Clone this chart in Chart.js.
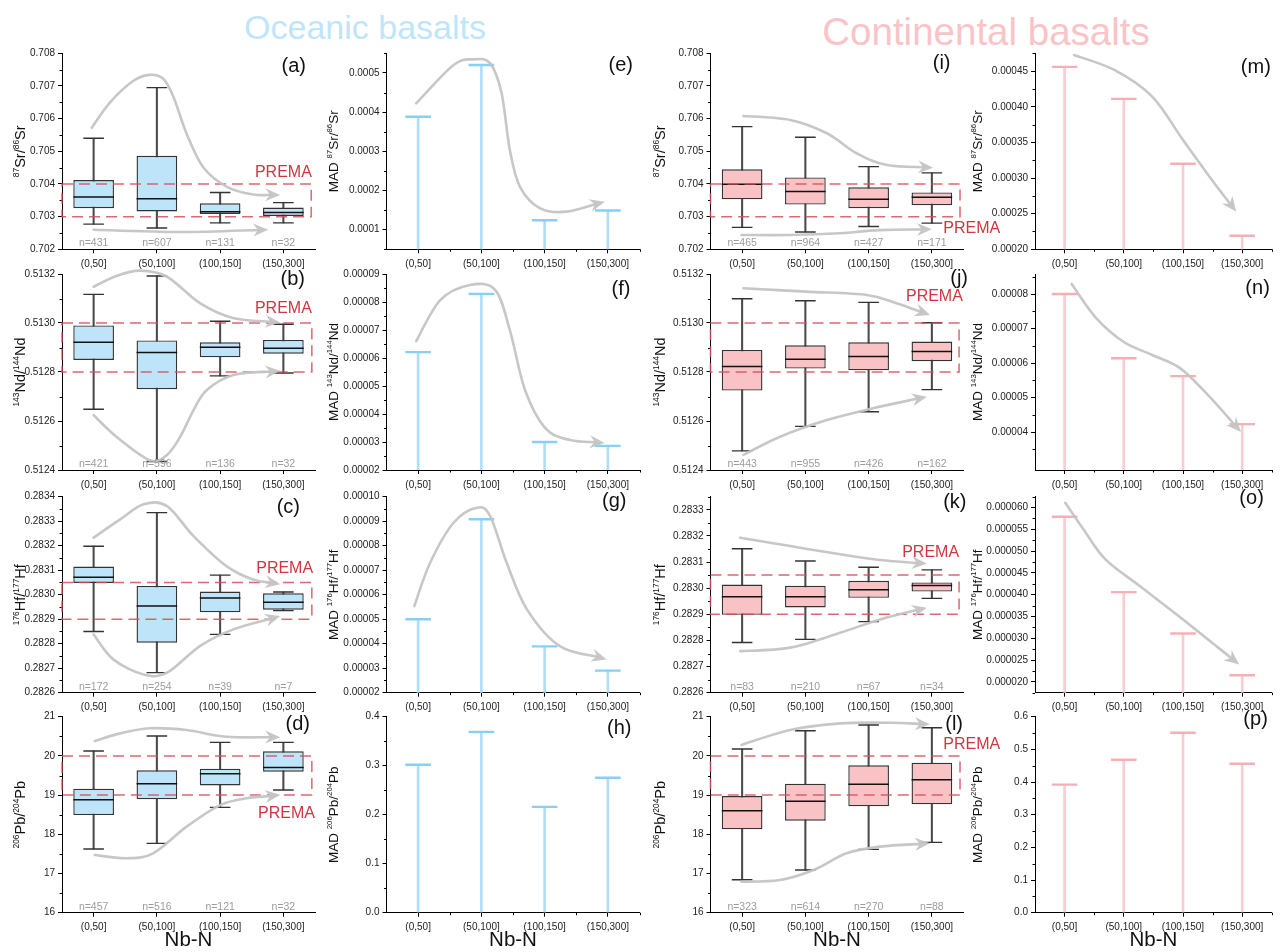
<!DOCTYPE html>
<html><head><meta charset="utf-8">
<script src="https://cdn.jsdelivr.net/npm/chart.js@4.4.1/dist/chart.umd.min.js"></script>
<style>
html,body{margin:0;padding:0;background:#fff;width:1287px;height:952px;overflow:hidden;position:relative;font-family:"Liberation Sans",Arial,Helvetica,sans-serif}
canvas{position:absolute;left:0;top:0}
.hdr{position:absolute;white-space:nowrap;transform:translateX(-50%)}
</style></head><body>
<div class="hdr" style="left:365px;top:10px;font-size:34px;line-height:34px;color:#bfe5fa">Oceanic basalts</div>
<div class="hdr" style="left:986px;top:13px;font-size:38.5px;line-height:38.5px;color:#f9c4c7">Continental basalts</div>
<script>
const categories = ['(0,50]', '(50,100]', '(100,150]', '(150,300]'];

// ---- Oceanic box plots ----
const aLow  = [0.70277, 0.70265, 0.70281, 0.70281];
const aQ1   = [0.70326, 0.70316, 0.70308, 0.70302];
const aMed  = [0.70360, 0.70355, 0.70315, 0.70313];
const aQ3   = [0.70412, 0.70486, 0.70341, 0.70328];
const aHigh = [0.70540, 0.70695, 0.70374, 0.70343];
const aN    = [431, 607, 131, 32];

const bLow  = [0.512648, 0.512435, 0.512784, 0.512796];
const bQ1   = [0.512849, 0.512730, 0.512860, 0.512875];
const bMed  = [0.512921, 0.512880, 0.512901, 0.512897];
const bQ3   = [0.512990, 0.512929, 0.512921, 0.512931];
const bHigh = [0.513117, 0.513192, 0.513007, 0.512995];
const bN    = [421, 596, 136, 32];

const cLow  = [0.282850, 0.282682, 0.282838, 0.282935];
const cQ1   = [0.283048, 0.282804, 0.282928, 0.282939];
const cMed  = [0.283071, 0.282954, 0.282987, 0.282969];
const cQ3   = [0.283115, 0.283036, 0.283013, 0.283006];
const cHigh = [0.283198, 0.283335, 0.283080, 0.283011];
const cN    = [172, 254, 39, 7];

const dLow  = [17.624, 17.769, 18.687, 19.129];
const dQ1   = [18.491, 18.891, 19.248, 19.597];
const dMed  = [18.883, 19.291, 19.546, 19.707];
const dQ3   = [19.163, 19.631, 19.673, 20.116];
const dHigh = [20.124, 20.507, 20.345, 20.345];
const dN    = [457, 516, 121, 32];

// ---- Continental box plots ----
const iLow  = [0.70267, 0.70253, 0.70270, 0.70280];
const iQ1   = [0.70353, 0.70337, 0.70326, 0.70335];
const iMed  = [0.70399, 0.70377, 0.70353, 0.70359];
const iQ3   = [0.70445, 0.70420, 0.70390, 0.70374];
const iHigh = [0.705755, 0.70543, 0.70453, 0.70434];
const iN    = [465, 964, 427, 171];

const jLow  = [0.512478, 0.512578, 0.512638, 0.512728];
const jQ1   = [0.512724, 0.512814, 0.512807, 0.512844];
const jMed  = [0.512822, 0.512852, 0.512863, 0.512884];
const jQ3   = [0.512890, 0.512909, 0.512921, 0.512924];
const jHigh = [0.513099, 0.513091, 0.513084, 0.513001];
const jN    = [443, 955, 426, 162];

const kLow  = [0.282792, 0.282804, 0.282872, 0.282961];
const kQ1   = [0.282898, 0.282926, 0.282963, 0.282987];
const kMed  = [0.282967, 0.282967, 0.282994, 0.283010];
const kQ3   = [0.283014, 0.283009, 0.283028, 0.283022];
const kHigh = [0.283151, 0.283104, 0.283080, 0.283070];
const kN    = [83, 210, 67, 34];

const lLow  = [16.842, 17.088, 17.616, 17.794];
const lQ1   = [18.126, 18.347, 18.713, 18.764];
const lMed  = [18.602, 18.840, 19.274, 19.393];
const lQ3   = [18.976, 19.291, 19.759, 19.827];
const lHigh = [20.175, 20.643, 20.787, 20.719];
const lN    = [323, 614, 270, 88];

// ---- MAD values ----
const eMad = [0.000388, 0.000520, 0.000124, 0.000149];
const fMad = [0.0000621, 0.0000829, 0.0000300, 0.0000286];
const gMad = [0.0000500, 0.0000908, 0.0000389, 0.0000290];
const hMad = [0.302, 0.369, 0.216, 0.2755];
const mMad = [0.000456, 0.000411, 0.000320, 0.000219];
const nMad = [0.0000800, 0.0000614, 0.0000562, 0.0000423];
const oMad = [0.0000579, 0.0000406, 0.0000311, 0.0000215];
const pMad = [0.392, 0.468, 0.551, 0.456];

// ---- tick labels ----
const srTicks  = [0.702, 0.703, 0.704, 0.705, 0.706, 0.707, 0.708];
const ndTicks  = [0.5124, 0.5126, 0.5128, 0.5130, 0.5132];
const hfTicks  = [0.2826, 0.2827, 0.2828, 0.2829, 0.2830, 0.2831, 0.2832, 0.2833, 0.2834];
const hfTicksK = [0.2826, 0.2827, 0.2828, 0.2829, 0.2830, 0.2831, 0.2832, 0.2833];
const pbTicks  = [16, 17, 18, 19, 20, 21];
const eTicks = [0.0001, 0.0002, 0.0003, 0.0004, 0.0005];
const fTicks = [0.00002, 0.00003, 0.00004, 0.00005, 0.00006, 0.00007, 0.00008, 0.00009];
const gTicks = [0.00002, 0.00003, 0.00004, 0.00005, 0.00006, 0.00007, 0.00008, 0.00009, 0.00010];
const hTicks = [0.0, 0.1, 0.2, 0.3, 0.4];
const mTicks = [0.00020, 0.00025, 0.00030, 0.00035, 0.00040, 0.00045];
const nTicks = [0.00004, 0.00005, 0.00006, 0.00007, 0.00008];
const oTicks = [0.000020, 0.000025, 0.000030, 0.000035, 0.000040, 0.000045, 0.000050, 0.000055, 0.000060];
const pTicks = [0.0, 0.1, 0.2, 0.3, 0.4, 0.5, 0.6];

// ---- axis titles (superscript parts in braces) ----
const titleSr = '{87}Sr/{86}Sr';
const titleNd = '{143}Nd/{144}Nd';
const titleHf = '{176}Hf/{177}Hf';
const titlePb = '{206}Pb/{204}Pb';

// ---- trend arrows: [category index, fraction of y range] ----
const aArrows = [
  [[-0.03,0.62],[0.26,0.75],[0.63,0.86],[0.89,0.89],[1.10,0.87],[1.26,0.78],[1.47,0.59],[1.73,0.42],[2.10,0.32],[2.52,0.28],[2.95,0.277]],
  [[0.0,0.10],[1.37,0.088],[2.76,0.10]]
];
const bArrows = [
  [[0.0,0.935],[0.36,0.99],[0.73,1.017],[1.16,0.986],[1.68,0.851],[2.20,0.776],[2.95,0.752]],
  [[0.0,0.28],[0.36,0.17],[0.89,0.05],[1.16,0.077],[1.37,0.17],[1.58,0.306],[1.79,0.408],[2.21,0.485],[2.95,0.507]]
];
const cArrows = [
  [[0.0,0.791],[0.42,0.884],[0.79,0.961],[1.16,0.952],[1.58,0.799],[2.10,0.646],[2.52,0.578],[2.95,0.553]],
  [[0.0,0.297],[0.31,0.170],[0.79,0.093],[1.16,0.102],[1.68,0.238],[2.21,0.323],[2.95,0.391]]
];
const dArrows = [
  [[0.02,0.876],[0.42,0.915],[0.89,0.941],[1.47,0.932],[2.10,0.898],[2.95,0.895]],
  [[0.02,0.294],[0.52,0.278],[0.94,0.303],[1.47,0.439],[2.0,0.549],[2.42,0.584],[2.95,0.600]]
];
const eArrows = [[[-0.03,0.745],[0.56,0.940],[0.87,0.969],[1.14,0.949],[1.32,0.796],[1.45,0.507],[1.61,0.319],[1.93,0.209],[2.35,0.192],[2.95,0.243]]];
const fArrows = [[[-0.03,0.658],[0.35,0.867],[0.82,0.944],[1.22,0.918],[1.45,0.714],[1.69,0.408],[2.01,0.214],[2.40,0.153],[2.95,0.138]]];
const gArrows = [[[-0.06,0.442],[0.19,0.663],[0.56,0.867],[0.93,0.944],[1.14,0.901],[1.40,0.663],[1.72,0.425],[2.24,0.238],[2.98,0.170]]];
const iArrows = [
  [[0.02,0.680],[0.76,0.660],[1.34,0.592],[1.81,0.490],[2.29,0.430],[3.02,0.416]],
  [[-0.01,0.073],[0.76,0.073],[1.55,0.082],[2.18,0.098],[3.0,0.102]]
];
const jArrows = [
  [[0.02,0.927],[1.02,0.910],[1.97,0.893],[2.44,0.851],[2.97,0.791]],
  [[0.02,0.077],[0.60,0.170],[1.34,0.255],[2.07,0.315],[2.92,0.374]]
];
const kArrows = [
  [[-0.03,0.791],[0.76,0.748],[1.55,0.706],[2.18,0.677],[2.92,0.658]],
  [[-0.03,0.212],[0.76,0.230],[1.55,0.306],[2.18,0.374],[2.92,0.434]]
];
const lArrows = [
  [[-0.01,0.856],[0.76,0.932],[1.55,0.966],[2.34,0.969],[2.97,0.961]],
  [[-0.01,0.158],[0.60,0.167],[1.13,0.218],[1.65,0.303],[2.18,0.337],[2.97,0.354]]
];
const mArrows = [[[0.16,0.991],[0.84,0.915],[1.48,0.779],[2.0,0.558],[2.53,0.337],[2.90,0.192]]];
const nArrows = [[[0.12,0.949],[0.53,0.776],[1.0,0.653],[1.48,0.587],[1.95,0.520],[2.42,0.383],[2.98,0.194]]];
const oArrows = [[[0.01,0.969],[0.32,0.833],[0.69,0.680],[1.27,0.544],[2.0,0.374],[2.95,0.144]]];

// ---- styling / layout ----
const FONT = '"Liberation Sans", Arial, Helvetica, sans-serif';
const BLUE_FILL = '#bde4f9', PINK_FILL = '#f9c3c6';
const BLUE_STEM = '#afdff7', BLUE_CAP = '#86cff5';
const PINK_STEM = '#f9cdd0', PINK_CAP = '#f6b0b5';
const COL_LEFT = [62, 386.5, 710.5, 1035];
const ROW_TOP = [53.3, 274, 496.7, 716.7];
const PLOT_H = 196;
const Y_W = [60, 66, 60, 66];
const TITLE_OFF = [42, 53.5, 50.5, 58];

const panels = [
  {kind:'box', row:0, col:0, low:aLow, q1:aQ1, med:aMed, q3:aQ3, high:aHigh, n:aN, min:0.702, max:0.708, ticks:srTicks, dec:3, title:titleSr, fill:BLUE_FILL,
   prema:{lo:0.703, hi:0.704, xr:3.44, tx:3.45, ty:0.70434, align:'right'}, arrows:aArrows, letter:'(a)', lr:9, lt:13},
  {kind:'box', row:1, col:0, low:bLow, q1:bQ1, med:bMed, q3:bQ3, high:bHigh, n:bN, min:0.5124, max:0.5132, ticks:ndTicks, dec:4, title:titleNd, fill:BLUE_FILL,
   prema:{lo:0.5128, hi:0.5130, xr:3.45, tx:3.45, ty:0.51306, align:'right'}, arrows:bArrows, letter:'(b)', lr:10, lt:5},
  {kind:'box', row:2, col:0, low:cLow, q1:cQ1, med:cMed, q3:cQ3, high:cHigh, n:cN, min:0.2826, max:0.2834, ticks:hfTicks, dec:4, title:titleHf, fill:BLUE_FILL,
   prema:{lo:0.2829, hi:0.28305, xr:3.45, tx:3.47, ty:0.283105, align:'right'}, arrows:cArrows, letter:'(c)', lr:15, lt:11},
  {kind:'box', row:3, col:0, low:dLow, q1:dQ1, med:dMed, q3:dQ3, high:dHigh, n:dN, min:16, max:21, ticks:pbTicks, dec:0, title:titlePb, fill:BLUE_FILL,
   prema:{lo:19, hi:20, xr:3.45, tx:3.5, ty:18.535, align:'right'}, arrows:dArrows, letter:'(d)', lr:5, lt:8},

  {kind:'mad', row:0, col:1, mad:eMad, min:0.00005, max:0.00055, ticks:eTicks, dec:4, title:'MAD ' + titleSr, stem:BLUE_STEM, cap:BLUE_CAP, arrows:eArrows, letter:'(e)', lr:6.5, lt:12},
  {kind:'mad', row:1, col:1, mad:fMad, min:0.00002, max:0.00009, ticks:fTicks, dec:5, title:'MAD ' + titleNd, stem:BLUE_STEM, cap:BLUE_CAP, arrows:fArrows, letter:'(f)', lr:9, lt:15},
  {kind:'mad', row:2, col:1, mad:gMad, min:0.00002, max:0.00010, ticks:gTicks, dec:5, title:'MAD ' + titleHf, stem:BLUE_STEM, cap:BLUE_CAP, arrows:gArrows, letter:'(g)', lr:13, lt:5},
  {kind:'mad', row:3, col:1, mad:hMad, min:0, max:0.4, ticks:hTicks, dec:1, title:'MAD ' + titlePb, stem:BLUE_STEM, cap:BLUE_CAP, arrows:[], letter:'(h)', lr:8, lt:12},

  {kind:'box', row:0, col:2, low:iLow, q1:iQ1, med:iMed, q3:iQ3, high:iHigh, n:iN, min:0.702, max:0.708, ticks:srTicks, dec:3, title:titleSr, fill:PINK_FILL,
   prema:{lo:0.703, hi:0.704, xr:3.445, tx:3.18, ty:0.70264, align:'left'}, arrows:iArrows, letter:'(i)', lr:13, lt:10},
  {kind:'box', row:1, col:2, low:jLow, q1:jQ1, med:jMed, q3:jQ3, high:jHigh, n:jN, min:0.5124, max:0.5132, ticks:ndTicks, dec:4, title:titleNd, fill:PINK_FILL,
   prema:{lo:0.5128, hi:0.5130, xr:3.43, tx:3.49, ty:0.513106, align:'right'}, arrows:jArrows, letter:'(j)', lr:-4.5, lt:4},
  {kind:'box', row:2, col:2, low:kLow, q1:kQ1, med:kMed, q3:kQ3, high:kHigh, n:kN, min:0.2826, max:0.28335, ticks:hfTicksK, dec:4, title:titleHf, fill:PINK_FILL,
   prema:{lo:0.2829, hi:0.28305, xr:3.43, tx:3.43, ty:0.283135, align:'right'}, arrows:kArrows, letter:'(k)', lr:-3, lt:6},
  {kind:'box', row:3, col:2, low:lLow, q1:lQ1, med:lMed, q3:lQ3, high:lHigh, n:lN, min:16, max:21, ticks:pbTicks, dec:0, title:titlePb, fill:PINK_FILL,
   prema:{lo:19, hi:20, xr:3.445, tx:3.18, ty:20.28, align:'left'}, arrows:lArrows, letter:'(l)', lr:0.5, lt:8},

  {kind:'mad', row:0, col:3, mad:mMad, min:0.0002, max:0.000475, ticks:mTicks, dec:5, title:'MAD ' + titleSr, stem:PINK_STEM, cap:PINK_CAP, arrows:mArrows, letter:'(m)', lr:1, lt:14},
  {kind:'mad', row:1, col:3, mad:nMad, min:0.000029, max:0.0000858, ticks:nTicks, dec:5, title:'MAD ' + titleNd, stem:PINK_STEM, cap:PINK_CAP, arrows:nArrows, letter:'(n)', lr:2, lt:14},
  {kind:'mad', row:2, col:3, mad:oMad, min:0.0000175, max:0.0000625, ticks:oTicks, dec:6, title:'MAD ' + titleHf, stem:PINK_STEM, cap:PINK_CAP, arrows:oArrows, letter:'(o)', lr:8, lt:2},
  {kind:'mad', row:3, col:3, mad:pMad, min:0, max:0.6, ticks:pTicks, dec:1, title:'MAD ' + titlePb, stem:PINK_STEM, cap:PINK_CAP, arrows:[], letter:'(p)', lr:4, lt:3}
];

// plain text version of a title (superscript braces removed)
function plainTitle(t) { return t.replace(/[{}]/g, ''); }
// split into segments: [{t, sup}]
function titleSegments(t) {
  const segs = [];
  const re = /\{([^}]*)\}|([^{]+)/g;
  let m;
  while ((m = re.exec(t)) !== null) {
    if (m[1] !== undefined) segs.push({t: m[1], sup: true});
    else segs.push({t: m[2], sup: false});
  }
  return segs;
}

function drawVerticalTitle(ctx, text, cx, cy, size) {
  const segs = titleSegments(text);
  const supSize = size * 0.58;
  let total = 0;
  segs.forEach(s => {
    ctx.font = (s.sup ? supSize : size) + 'px ' + FONT;
    s.w = ctx.measureText(s.t).width;
    total += s.w;
  });
  ctx.save();
  ctx.translate(cx, cy);
  ctx.rotate(-Math.PI / 2);
  ctx.fillStyle = '#111';
  ctx.textAlign = 'left';
  ctx.textBaseline = 'alphabetic';
  let x = -total / 2;
  const base = size * 0.36;
  segs.forEach(s => {
    ctx.font = (s.sup ? supSize : size) + 'px ' + FONT;
    ctx.fillText(s.t, x, s.sup ? base - size * 0.42 : base);
    x += s.w;
  });
  ctx.restore();
}

function drawArrow(ctx, pts) {
  const n = pts.length;
  const segs = [];
  for (let i = 0; i < n - 1; i++) {
    const p0 = pts[Math.max(i - 1, 0)], p1 = pts[i], p2 = pts[i + 1], p3 = pts[Math.min(i + 2, n - 1)];
    const c1 = [p1[0] + (p2[0] - p0[0]) / 6, p1[1] + (p2[1] - p0[1]) / 6];
    const c2 = [p2[0] - (p3[0] - p1[0]) / 6, p2[1] - (p3[1] - p1[1]) / 6];
    segs.push([p1, c1, c2, p2]);
  }
  const ls = segs[segs.length - 1];
  const tip = ls[3];
  let dx = tip[0] - ls[2][0], dy = tip[1] - ls[2][1];
  let L = Math.hypot(dx, dy);
  if (L < 1e-6) { dx = tip[0] - ls[0][0]; dy = tip[1] - ls[0][1]; L = Math.hypot(dx, dy) || 1; }
  dx /= L; dy /= L;
  const headL = 15, headW = 6.5, back = headL * 0.6;
  const end = [tip[0] - dx * back, tip[1] - dy * back];
  ctx.beginPath();
  ctx.moveTo(pts[0][0], pts[0][1]);
  segs.forEach((s, k) => {
    if (k === segs.length - 1) {
      ctx.bezierCurveTo(s[1][0], s[1][1], s[2][0] - dx * back, s[2][1] - dy * back, end[0], end[1]);
    } else {
      ctx.bezierCurveTo(s[1][0], s[1][1], s[2][0], s[2][1], s[3][0], s[3][1]);
    }
  });
  ctx.stroke();
  const px = -dy, py = dx;
  ctx.beginPath();
  ctx.moveTo(tip[0], tip[1]);
  ctx.lineTo(tip[0] - dx * headL + px * headW, tip[1] - dy * headL + py * headW);
  ctx.lineTo(tip[0] - dx * headL * 0.68, tip[1] - dy * headL * 0.68);
  ctx.lineTo(tip[0] - dx * headL - px * headW, tip[1] - dy * headL - py * headW);
  ctx.closePath();
  ctx.fill();
}

const decorPlugin = {
  id: 'decor',
  afterDraw(chart, args, opts) {
    const p = opts.panel;
    if (!p) return;
    const ctx = chart.ctx, xs = chart.scales.x, ys = chart.scales.y, ca = chart.chartArea;
    ctx.save();
    // minor ticks on y axis
    const tv = ys.ticks.map(t => t.value);
    const step = tv[1] - tv[0];
    ctx.strokeStyle = '#000'; ctx.lineWidth = 1;
    ctx.beginPath();
    for (let k = -1; k < tv.length + 1; k++) {
      const v = tv[0] + (k + 0.5) * step;
      if (v < ys.min - step * 1e-6 || v > ys.max + step * 1e-6) continue;
      const y = Math.round(ys.getPixelForValue(v)) + 0.5;
      ctx.moveTo(ca.left - 2.5, y); ctx.lineTo(ca.left, y);
    }
    if (p.kind === 'mad') {
      for (let i = 1; i <= 4; i++) {
        const x = Math.round(xs.getPixelForValue(i - 0.5)) + 0.5;
        ctx.moveTo(x, ca.bottom); ctx.lineTo(x, ca.bottom + 2.5);
      }
    }
    ctx.stroke();

    // y-axis title with true superscripts
    drawVerticalTitle(ctx, p.title, ca.left - TITLE_OFF[p.col], (ca.top + ca.bottom) / 2, p.kind === 'box' ? 14.5 : 13.5);

    // PREMA dashed box
    if (p.prema) {
      const pr = p.prema;
      const x0 = xs.getPixelForValue(-0.5), x1 = xs.getPixelForValue(pr.xr);
      const y0 = ys.getPixelForValue(pr.hi), y1 = ys.getPixelForValue(pr.lo);
      ctx.setLineDash([11, 6]);
      ctx.strokeStyle = 'rgba(214,78,88,0.85)';
      ctx.lineWidth = 1.5;
      ctx.strokeRect(x0, y0, x1 - x0, y1 - y0);
      ctx.setLineDash([]);
    }
    // arrows
    ctx.strokeStyle = 'rgba(196,196,196,0.95)';
    ctx.fillStyle = 'rgba(196,196,196,0.95)';
    ctx.lineWidth = 2.6;
    ctx.lineCap = 'round';
    (p.arrows || []).forEach(a => {
      const pts = a.map(q => [xs.getPixelForValue(q[0]), ys.getPixelForValue(ys.min + q[1] * (ys.max - ys.min))]);
      drawArrow(ctx, pts);
    });
    // PREMA label
    if (p.prema) {
      const pr = p.prema;
      ctx.font = '16px ' + FONT;
      ctx.fillStyle = '#cf3640';
      ctx.textAlign = pr.align;
      ctx.textBaseline = 'middle';
      ctx.fillText('PREMA', xs.getPixelForValue(pr.tx), ys.getPixelForValue(pr.ty));
    }
    // n labels
    if (p.n) {
      ctx.font = '10.5px ' + FONT;
      ctx.fillStyle = '#9c9c9c';
      ctx.textAlign = 'center';
      ctx.textBaseline = 'middle';
      p.n.forEach((v, i) => ctx.fillText('n=' + v, xs.getPixelForValue(i), ca.bottom - 6));
    }
    // panel letter
    ctx.font = '20px ' + FONT;
    ctx.fillStyle = '#111';
    ctx.textAlign = 'right';
    ctx.textBaseline = 'middle';
    ctx.fillText(p.letter, ca.right - p.lr, ca.top + p.lt);
    ctx.restore();
  }
};

function makeChart(p) {
  const cv = document.createElement('canvas');
  cv.width = 1287; cv.height = 952;
  cv.style.width = '1287px'; cv.style.height = '952px';
  document.body.appendChild(cv);
  const left = COL_LEFT[p.col], top = ROW_TOP[p.row];
  const w = p.col === 3 ? 252 : 253;
  const yw = Y_W[p.col];
  const xh = p.row === 3 ? 40 : 24;
  const padding = {left: left - yw, top: top, right: 1287 - (left + w), bottom: 952 - (top + PLOT_H) - xh};

  let datasets;
  if (p.kind === 'box') {
    datasets = [
      {type: 'line', label: 'median', data: p.med, showLine: false, pointStyle: 'line', pointRadius: 20.3, pointBorderWidth: 1.5, pointBorderColor: '#111', pointBackgroundColor: '#111', order: 0},
      {type: 'line', label: 'upper whisker', data: p.high, showLine: false, pointStyle: 'line', pointRadius: 10.3, pointBorderWidth: 1.4, pointBorderColor: '#333', pointBackgroundColor: '#333', order: 0},
      {type: 'line', label: 'lower whisker', data: p.low, showLine: false, pointStyle: 'line', pointRadius: 10.3, pointBorderWidth: 1.4, pointBorderColor: '#333', pointBackgroundColor: '#333', order: 0},
      {type: 'bar', label: 'IQR', data: p.q1.map((v, i) => [v, p.q3[i]]), backgroundColor: p.fill, borderColor: '#333', borderWidth: 1.4, borderSkipped: false, barPercentage: 0.643, categoryPercentage: 1, grouped: false, order: 1},
      {type: 'bar', label: 'range', data: p.low.map((v, i) => [v, p.high[i]]), backgroundColor: '#4a4a4a', barThickness: 1.4, grouped: false, order: 2}
    ];
  } else {
    datasets = [
      {type: 'line', label: 'MAD cap', data: p.mad, showLine: false, pointStyle: 'line', pointRadius: 12.8, pointBorderWidth: 2.4, pointBorderColor: p.cap, pointBackgroundColor: p.cap, order: 0},
      {type: 'bar', label: 'MAD', data: p.mad, backgroundColor: p.stem, barThickness: 2, grouped: false, order: 1}
    ];
  }
  const ticksArr = p.ticks;
  new Chart(cv, {
    type: 'bar',
    data: {labels: categories, datasets},
    options: {
      responsive: false, animation: false, devicePixelRatio: 1, events: [],
      layout: {padding},
      plugins: {legend: {display: false}, tooltip: {enabled: false}, decor: {panel: p}},
      scales: {
        x: {
          type: 'category', offset: true,
          grid: {display: true, offset: false, drawOnChartArea: false, drawTicks: true, tickLength: 4, color: '#000', tickColor: '#000'},
          border: {display: true, color: '#000', width: 1},
          ticks: {font: {family: FONT, size: 10}, color: '#222', padding: 5, autoSkip: false, maxRotation: 0, minRotation: 0},
          title: p.row === 3 ? {display: true, text: 'Nb-N', font: {family: FONT, size: 20.5}, color: '#111', padding: {top: 0, bottom: 0}} : {display: false},
          afterFit(s) { s.height = xh; }
        },
        y: {
          type: 'linear', min: p.min, max: p.max,
          afterBuildTicks(s) { s.ticks = ticksArr.map(v => ({value: v})); },
          grid: {display: true, drawOnChartArea: false, drawTicks: true, tickLength: 4, color: '#000', tickColor: '#000'},
          border: {display: true, color: '#000', width: 1},
          ticks: {font: {family: FONT, size: 10}, color: '#222', padding: 3, callback: (v) => Number(v).toFixed(p.dec)},
          title: {display: false, text: plainTitle(p.title)},
          afterFit(s) { s.width = yw; }
        }
      }
    },
    plugins: [decorPlugin]
  });
}

panels.forEach(makeChart);
</script>
</body></html>
